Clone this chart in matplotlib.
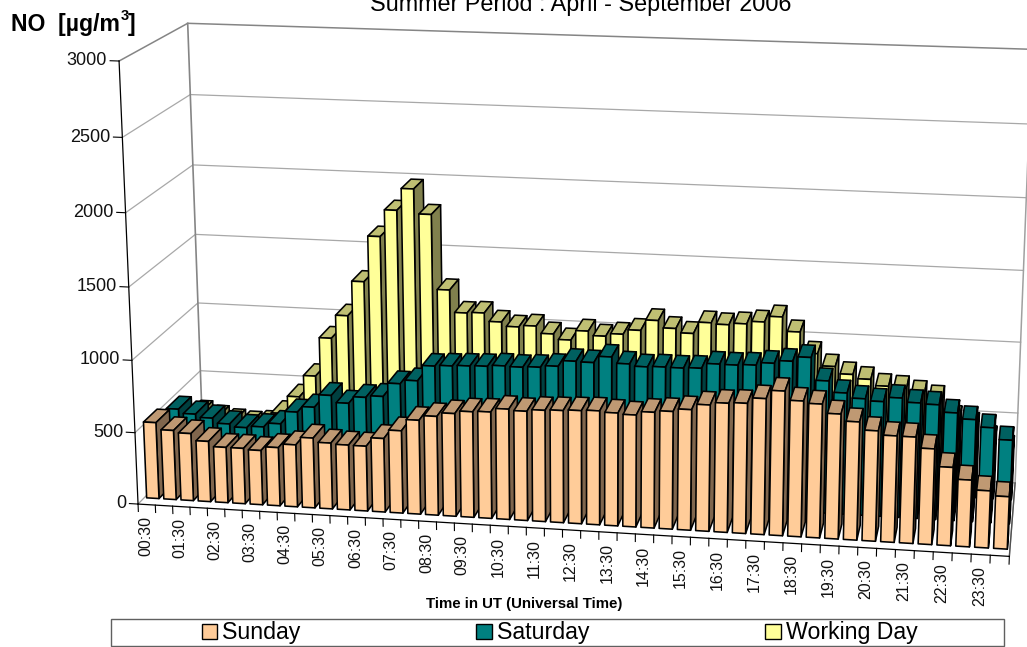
import numpy as np
import matplotlib
matplotlib.use("Agg")
import matplotlib.pyplot as plt
from matplotlib.patches import Patch, Rectangle
from mpl_toolkits.mplot3d import proj3d

plt.rcParams["font.family"] = ["Liberation Sans", "DejaVu Sans"]

W, H = 1027, 647

# half-hourly categories, 00:30 to 24:00
times = [f"{(m // 60):02d}:{(m % 60):02d}" for m in range(30, 1470, 30)]

sunday = [534, 486, 471, 423, 388, 388, 380, 407, 433, 487, 459, 452, 451, 511, 571, 650,
          683, 709, 728, 733, 759, 751, 764, 769, 775, 780, 772, 765, 790, 802, 821, 859,
          877, 883, 921, 978, 918, 904, 844, 798, 745, 718, 717, 645, 528, 450, 385, 353]
saturday = [478, 449, 427, 392, 372, 384, 413, 503, 544, 634, 585, 633, 646, 742, 769, 878,
            885, 891, 895, 904, 901, 907, 920, 961, 958, 1003, 961, 947, 952, 951, 956, 991,
            990, 996, 1015, 1035, 1067, 913, 837, 804, 791, 822, 795, 789, 740, 701, 652, 574]
working_day = [300, 270, 250, 240, 250, 329, 457, 614, 893, 1060, 1308, 1632, 1821, 1975, 1802, 1277,
               1120, 1126, 1068, 1039, 1051, 1001, 964, 1033, 1003, 1023, 1056, 1131, 1081, 1052, 1133, 1125,
               1137, 1156, 1197, 1098, 953, 869, 820, 792, 750, 742, 714, 686, 550, 508, 420, 358]

series_names = ["Sunday", "Saturday", "Working Day"]
y_ticks = [0, 500, 1000, 1500, 2000, 2500, 3000]

# front, top, side colours per series
series_colors = {
    "Sunday": ("#FFCC99", "#BF9973", "#80664D"),
    "Saturday": ("#008080", "#006060", "#004040"),
    "Working Day": ("#FFFF99", "#BFBF73", "#80804D"),
}

BAR_W = 0.72
BAR_D = 0.6
ROW_START = 0.27
HIDDEN = (0, 0, 0, 0)


def fit_camera():
    # box corners in world units and where they sit on the page
    world = []
    page = []
    front_left = [(138, 505), (135, 432), (132, 360), (129, 287), (125.7, 212.7), (122.3, 137), (119, 61)]
    back_left = [(203, 437), (200, 371), (198, 303), (195, 235), (193, 165), (190, 95), (188, 23)]
    back_right = [(1015, 482), (1018, 413), (1021, 342), (1024, 271), (1026, 198), (1029, 124), (1032, 49)]
    for z, a, b, c in zip(y_ticks, front_left, back_left, back_right):
        world += [(0, 0, z), (0, 3, z), (48, 3, z)]
        page += [a, b, c]
    world.append((48, 0, 0))
    page.append((1009, 557))

    rows = []
    for (x, y, z), (u, v) in zip(world, page):
        p = [x, y, z / 100, 1]
        rows.append(p + [0, 0, 0, 0] + [-u * c for c in p])
        rows.append([0, 0, 0, 0] + p + [-v * c for c in p])
    cam = np.linalg.svd(np.array(rows, float))[2][-1].reshape(3, 4)
    cam = cam / cam[2, 3]
    cam[:, 2] /= 100
    return np.array([cam[0], cam[1], [0, 1, 0, 0], cam[2]])


fig = plt.figure(figsize=(W / 100, H / 100), dpi=100)
ax = fig.add_axes([0, 0, 1, 1], projection="3d")
ax.set_proj_type("ortho")
M = fit_camera()
ax.get_proj = lambda: M
ax.apply_aspect = lambda position=None: None
ax.viewLim.intervalx = (0, W)
ax.viewLim.intervaly = (H, 0)
ax.computed_zorder = False
ax.set_axis_off()


def page_xy(x, y, z):
    u, v, _ = proj3d.proj_transform(x, y, z, M)
    return float(u), float(v)


# walls and gridlines
for z in y_ticks[1:-1]:
    ax.plot([0, 0, 48], [0, 3, 3], [z, z, z], color="#a8a8a8", lw=0.9, zorder=1)
ax.plot([0, 0, 48], [0, 3, 3], [3000, 3000, 3000], color="#858585", lw=1.1, zorder=1)
ax.plot([0, 0], [3, 3], [0, 3000], color="#858585", lw=1.2, zorder=1)
ax.plot([48, 48], [3, 3], [0, 3000], color="#a0a0a0", lw=1.1, zorder=1)
ax.plot([0, 0, 48, 48], [0, 3, 3, 0], [0, 0, 0, 0], color="#a0a0a0", lw=0.9, zorder=1)

# bars, back row first and left to right inside a row
order = 10
for row, values in reversed(list(enumerate([sunday, saturday, working_day]))):
    front, top, side = series_colors[series_names[row]]
    faces = [HIDDEN, top, front, HIDDEN, HIDDEN, side]
    edges = [HIDDEN, "black", "black", HIDDEN, HIDDEN, "black"]
    for i, value in enumerate(values):
        bar = ax.bar3d(i + (1 - BAR_W) / 2, row + ROW_START, 0, BAR_W, BAR_D, value,
                       color=faces, edgecolors=edges, linewidth=1.15, shade=False)
        bar.set_zorder(order)
        order += 1

# front axes
ax.plot([48, 48], [0, 3], [0, 0], color="#505050", lw=1.0, zorder=200)
ax.plot([0, 0], [0, 0], [0, 3000], color="black", lw=0.9, zorder=200)
ax.plot([0, 48], [0, 0], [0, 0], color="black", lw=0.9, zorder=200)
for z in y_ticks:
    ax.plot([-0.5, 0], [0, 0], [z, z], color="black", lw=0.8, zorder=200)
    u, v = page_xy(-0.5, 0, z)
    ax.annotate(str(z), xy=(u - 3, v), ha="right", va="center", fontsize=13, color="#111111",
                annotation_clip=False)
for i in range(49):
    ax.plot([i, i], [0, 0], [0, -52], color="black", lw=0.8, zorder=200)
for i, label in enumerate(times):
    if i % 2 == 0:
        u, v = page_xy(i + 0.5, 0, 0)
        ax.annotate(label, xy=(u - 1, v + 11), ha="center", va="top", rotation=90, fontsize=11.5,
                    color="#111111", annotation_clip=False)

# text outside the box
fig.text(581 / W, 1 - 11 / H, "Summer Period : April - September 2006", ha="center", va="baseline", fontsize=16.8)
fig.text(524 / W, 1 - 608 / H, "Time in UT (Universal Time)", ha="center", va="baseline", fontsize=10.8,
         fontweight="bold")
fig.text(11 / W, 1 - 31 / H, "NO  [µg/m", ha="left", va="baseline", fontsize=16.6, fontweight="bold")
fig.text(121 / W, 1 - 20 / H, "3", ha="left", va="baseline", fontsize=10.5, fontweight="bold")
fig.text(128 / W, 1 - 31 / H, "]", ha="left", va="baseline", fontsize=16.6, fontweight="bold")

# legend
fig.add_artist(Rectangle((111 / W, 1 - 646 / H), 893 / W, 27 / H, transform=fig.transFigure,
                         facecolor="white", edgecolor="#606060", lw=1.0))
handles = [Patch(facecolor=series_colors[n][0], edgecolor="black", lw=1.0) for n in series_names]
fig.legend(handles, series_names, ncol=3, loc="center", bbox_to_anchor=(559.5 / W, 1 - 633 / H),
           frameon=False, fontsize=16.7, columnspacing=7.6, handlelength=0.65, handleheight=0.65,
           handletextpad=0.22, borderpad=0, borderaxespad=0)

fig.savefig("out.png", dpi=100)
